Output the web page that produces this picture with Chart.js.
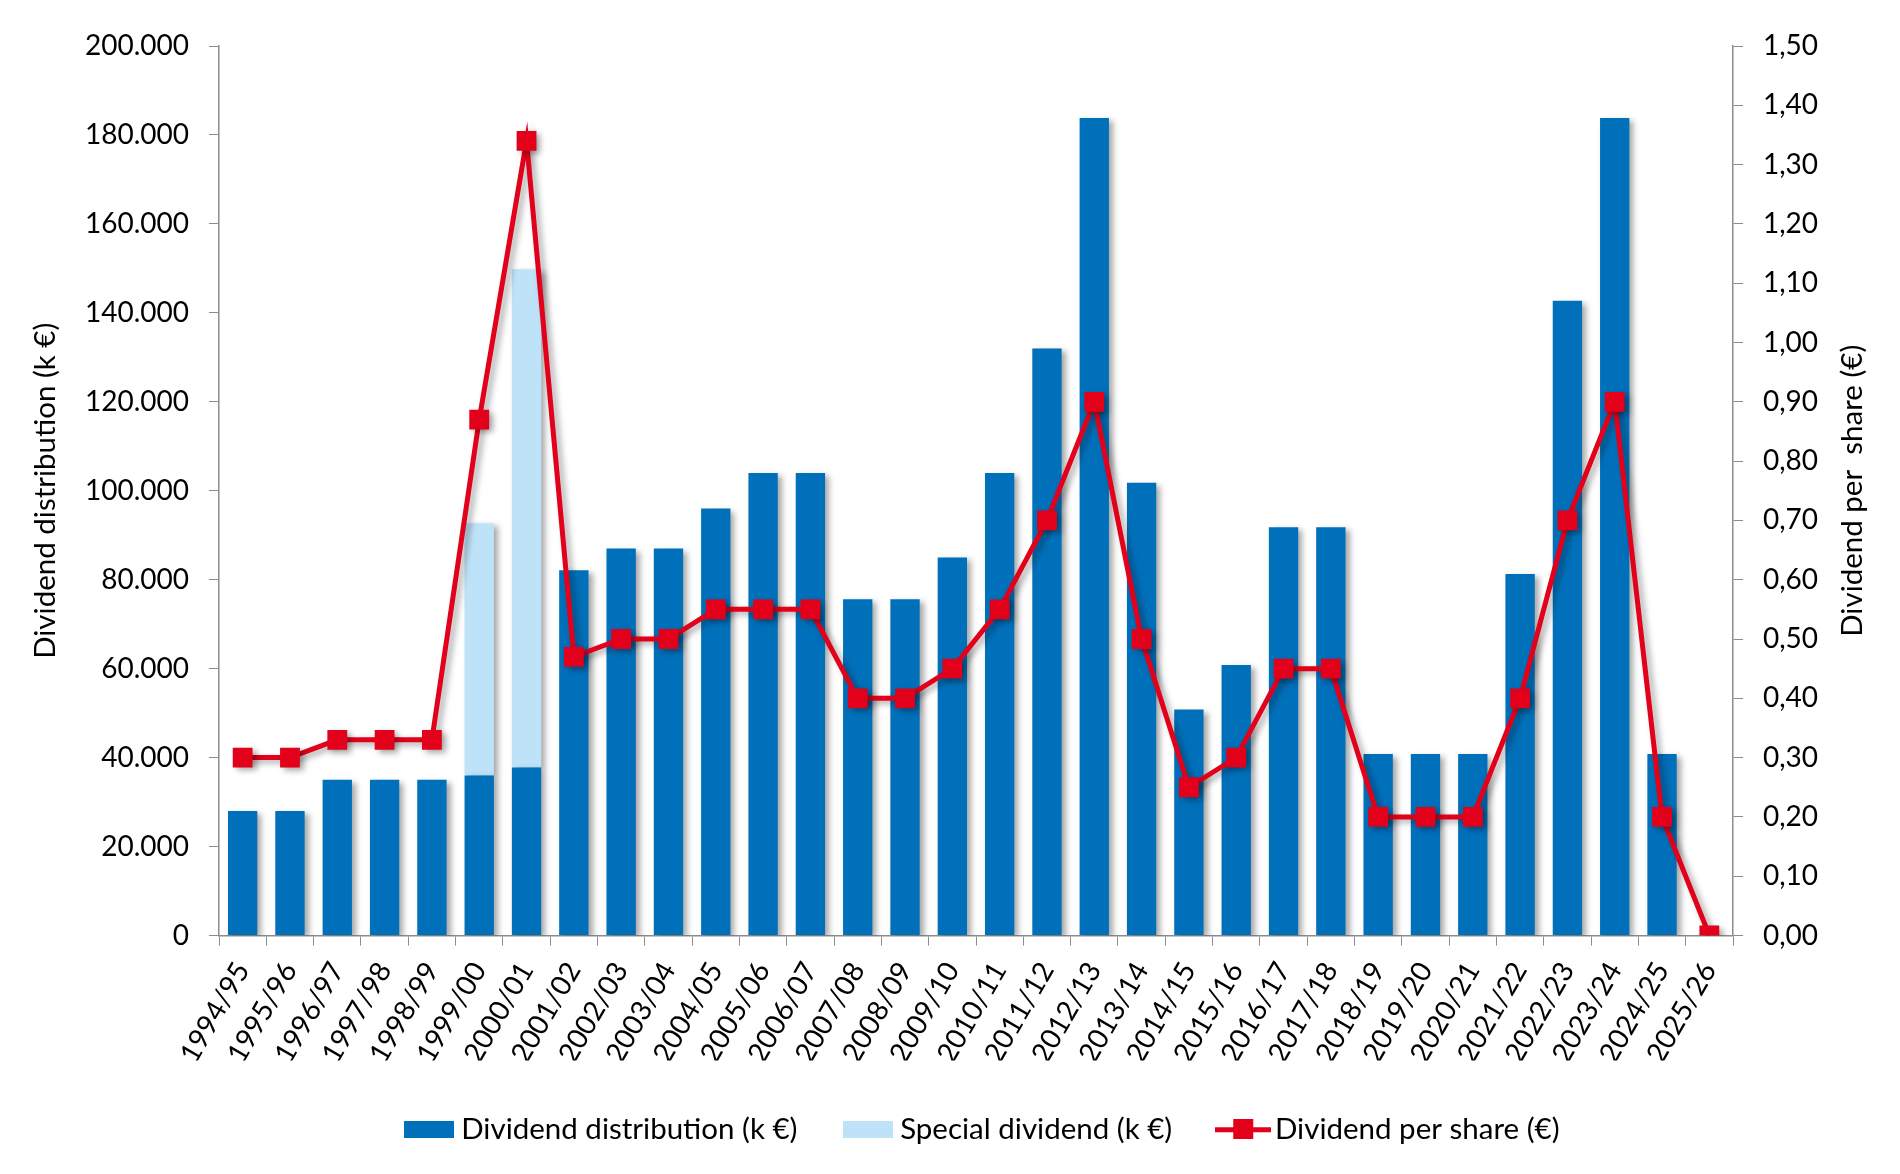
<!DOCTYPE html>
<html>
<head>
<meta charset="utf-8">
<script src="https://cdn.jsdelivr.net/npm/chart.js@4.4.1/dist/chart.umd.min.js"></script>
<style>
html, body { margin: 0; padding: 0; background: #fff; }
#wrap { width: 1900px; height: 1174px; }
</style>
</head>
<body>
<div id="wrap"><canvas id="chart" width="1900" height="1174"></canvas></div>
<script>
// Dividend history — bars on left axis (k €), per-share line on right axis (€)
const seasons = ['1994/95', '1995/96', '1996/97', '1997/98', '1998/99', '1999/00', '2000/01', '2001/02',
                 '2002/03', '2003/04', '2004/05', '2005/06', '2006/07', '2007/08', '2008/09', '2009/10',
                 '2010/11', '2011/12', '2012/13', '2013/14', '2014/15', '2015/16', '2016/17', '2017/18',
                 '2018/19', '2019/20', '2020/21', '2021/22', '2022/23', '2023/24', '2024/25', '2025/26'];
const distribution = [28000, 28000, 35000, 35000, 35000, 36000, 37800, 82100,
                      87000, 87000, 96000, 104000, 104000, 75600, 75600, 85000,
                      104000, 132000, 183800, 101800, 50800, 60800, 91800, 91800,
                      40800, 40800, 40800, 81300, 142700, 183800, 40800, 0];
const special = [0, 0, 0, 0, 0, 56700, 112000, 0,
                 0, 0, 0, 0, 0, 0, 0, 0,
                 0, 0, 0, 0, 0, 0, 0, 0,
                 0, 0, 0, 0, 0, 0, 0, 0];
const perShare = [0.30, 0.30, 0.33, 0.33, 0.33, 0.87, 1.34, 0.47,
                  0.50, 0.50, 0.55, 0.55, 0.55, 0.40, 0.40, 0.45,
                  0.55, 0.70, 0.90, 0.50, 0.25, 0.30, 0.45, 0.45,
                  0.20, 0.20, 0.20, 0.40, 0.70, 0.90, 0.20, 0.00];

const DARK = '#0070ba';
const LIGHT = '#bee3f8';
const RED = '#e2001a';
const AXIS = '#8c8c8c';
const FAMILY = "Lato, 'Open Sans', sans-serif";
const TEXT_SIZE = 29.5;

Chart.defaults.color = '#000';
Chart.defaults.font.family = FAMILY;
Chart.defaults.font.size = 28;

// legend swatches
const swatch = (w, h, color) => {
    const c = document.createElement('canvas');
    c.width = w; c.height = h;
    const g = c.getContext('2d');
    g.fillStyle = color;
    g.fillRect(0, 0, w, h);
    return c;
};
const lineSwatch = (() => {
    const c = document.createElement('canvas');
    c.width = 56; c.height = 20;
    const g = c.getContext('2d');
    g.fillStyle = RED;
    g.fillRect(0, 8, 56, 5);
    g.fillRect(18, 0, 20, 20);
    return c;
})();

// drop shadow under bars, line and markers
const shadowPlugin = {
    id: 'shadow',
    beforeDatasetDraw(chart) {
        const ctx = chart.ctx;
        ctx.save();
        ctx.shadowColor = 'rgba(0,0,0,0.35)';
        ctx.shadowBlur = 6;
        ctx.shadowOffsetX = 4;
        ctx.shadowOffsetY = 3;
    },
    afterDatasetDraw(chart) {
        chart.ctx.restore();
    }
};

// the original legend sits a little right of centre
const legendShift = {
    id: 'legendShift',
    afterLayout(chart) {
        chart.legend.left += 36;
        chart.legend.right += 36;
    }
};

// right axis title reads bottom-to-top like the left one
const rightTitle = {
    id: 'rightTitle',
    afterDraw(chart) {
        const y1 = chart.scales.y1;
        const ctx = chart.ctx;
        ctx.save();
        ctx.translate(1852, (y1.top + y1.bottom) / 2);
        ctx.rotate(-Math.PI / 2);
        ctx.font = `${TEXT_SIZE}px ${FAMILY}`;
        ctx.fillStyle = '#000';
        ctx.textAlign = 'center';
        ctx.textBaseline = 'middle';
        ctx.fillText('Dividend per  share (€)', 0, 0);
        ctx.restore();
    }
};

new Chart(document.getElementById('chart'), {
    type: 'bar',
    data: {
        labels: seasons,
        datasets: [
            { label: 'Dividend distribution (k €)', data: distribution, backgroundColor: DARK,
              yAxisID: 'y', order: 1, barPercentage: 0.62, categoryPercentage: 1 },
            { label: 'Special dividend (k €)', data: special, backgroundColor: LIGHT,
              yAxisID: 'y', order: 2, barPercentage: 0.62, categoryPercentage: 1 },
            { type: 'line', label: 'Dividend per share (€)', data: perShare, yAxisID: 'y1', order: 0,
              borderColor: RED, backgroundColor: RED, borderWidth: 5, pointStyle: 'rect',
              pointRadius: 14, pointHoverRadius: 14, pointBorderWidth: 0, tension: 0 }
        ]
    },
    options: {
        responsive: false,
        animation: false,
        layout: { padding: { top: 46, bottom: 20, left: 0, right: 0 } },
        plugins: {
            tooltip: { enabled: false },
            legend: {
                position: 'bottom',
                labels: {
                    usePointStyle: true,
                    pointStyleWidth: 34,
                    padding: 54,
                    color: '#000',
                    font: { size: TEXT_SIZE },
                    generateLabels: () => [
                        { text: 'Dividend distribution (k €)', pointStyle: swatch(50, 17, DARK), fillStyle: DARK, lineWidth: 0, datasetIndex: 0 },
                        { text: 'Special dividend (k €)', pointStyle: swatch(50, 17, LIGHT), fillStyle: LIGHT, lineWidth: 0, datasetIndex: 1 },
                        { text: 'Dividend per share (€)', pointStyle: lineSwatch, fillStyle: RED, lineWidth: 0, datasetIndex: 2 }
                    ]
                }
            }
        },
        scales: {
            x: {
                stacked: true,
                afterFit: s => { s.height = 125; },
                border: { color: AXIS, width: 1.5 },
                grid: { offset: true, drawOnChartArea: false, tickLength: 10, color: AXIS },
                ticks: { minRotation: 60, maxRotation: 60, autoSkip: false, padding: 11 }
            },
            y: {
                stacked: true,
                position: 'left',
                min: 0, max: 200000,
                afterFit: s => { s.width = 219; },
                border: { color: AXIS, width: 1.5 },
                grid: { drawOnChartArea: false, tickLength: 10, color: AXIS },
                ticks: {
                    stepSize: 20000, padding: 20,
                    callback: v => v.toLocaleString('de-DE')
                },
                title: { display: true, text: 'Dividend distribution (k €)', font: { size: TEXT_SIZE },
                         padding: { top: 28, bottom: 0 } }
            },
            y1: {
                position: 'right',
                min: 0, max: 1.5,
                afterFit: s => { s.width = 167; },
                border: { color: AXIS, width: 1.5 },
                grid: { drawOnChartArea: false, tickLength: 10, color: AXIS },
                ticks: {
                    stepSize: 0.1, padding: 20,
                    callback: v => v.toFixed(2).replace('.', ',')
                }
            }
        }
    },
    plugins: [shadowPlugin, legendShift, rightTitle]
});
</script>
</body>
</html>
